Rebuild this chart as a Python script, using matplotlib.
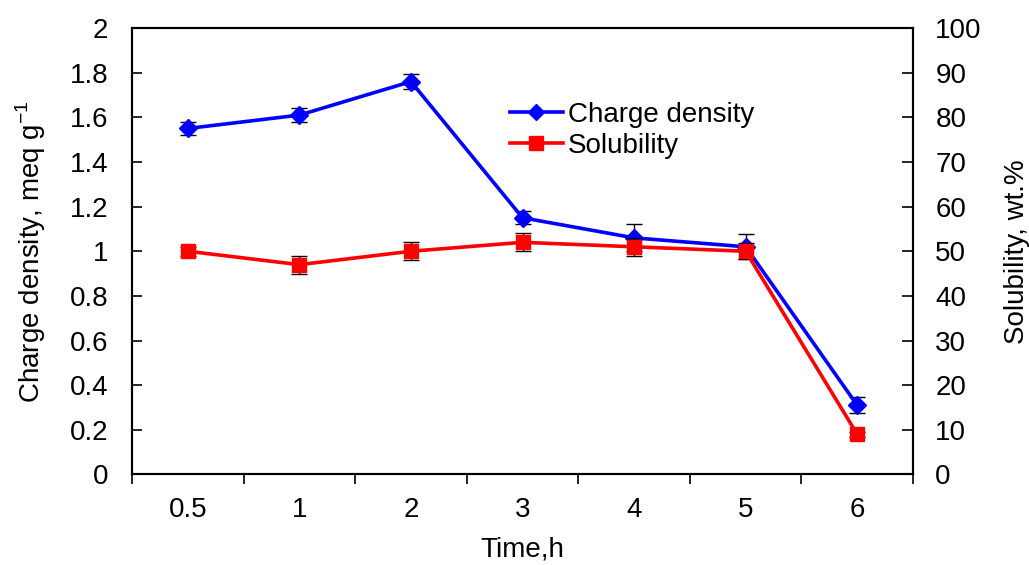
import numpy as np
import matplotlib.pyplot as plt
from matplotlib.lines import Line2D

plt.rcParams['font.family'] = ['Liberation Sans', 'DejaVu Sans']
plt.rcParams['mathtext.fontset'] = 'custom'
plt.rcParams['mathtext.rm'] = 'Liberation Sans'

# Reaction time categories
times = ['0.5', '1', '2', '3', '4', '5', '6']

# Charge density, meq/g, with error
charge = [1.55, 1.61, 1.76, 1.15, 1.06, 1.02, 0.31]
charge_err = [0.027, 0.031, 0.035, 0.03, 0.06, 0.056, 0.035]

# Solubility, wt.%, with error
solub = [50, 47, 50, 52, 51, 50, 9]
solub_err = [1, 2, 2, 2, 2, 1.8, 0.5]

FS = 20
LW = 2.6

fig = plt.figure(figsize=(10.29, 5.65), dpi=100)
ax1 = fig.add_axes([0.1283, 0.1602, 0.7590, 0.7902])
ax2 = ax1.twinx()

x = np.arange(len(times))

# charge density (left axis)
ax1.errorbar(x, charge, yerr=charge_err, fmt='none', ecolor='black',
             elinewidth=1, capsize=6, capthick=1, zorder=2)
ax1.plot(x, charge, color='#0000ff', lw=LW, marker='D', ms=9,
         mfc='#0000ff', mec='#0000ff', zorder=3)

# solubility (right axis)
ax2.errorbar(x, solub, yerr=solub_err, fmt='none', ecolor='black',
             elinewidth=1, capsize=6, capthick=1, zorder=2)
ax2.plot(x, solub, color='#ff0000', lw=LW, marker='s', ms=10,
         mfc='#ff0000', mec='#ff0000', zorder=3)

ax1.set_xlim(-0.5, len(times) - 0.5)
ax1.set_ylim(0, 2)
ax2.set_ylim(0, 100)

ax1.set_yticks(np.arange(0, 2.01, 0.2))
ax1.set_yticklabels(['0', '0.2', '0.4', '0.6', '0.8', '1', '1.2', '1.4', '1.6', '1.8', '2'])
ax2.set_yticks(np.arange(0, 101, 10))

# labels at category centres, tick marks at boundaries
ax1.set_xticks(x)
ax1.set_xticklabels(times)
ax1.set_xticks(np.arange(-0.5, len(times)), minor=True)
ax1.tick_params(axis='x', which='major', length=0, pad=16, labelsize=FS)
ax1.tick_params(axis='x', which='minor', length=7, width=1.2, direction='out')
ax1.tick_params(axis='y', direction='in', length=7, width=1.2, pad=17, labelsize=FS)
ax2.tick_params(axis='y', direction='in', length=8, width=1.2, pad=16, labelsize=FS)

for ax in (ax1, ax2):
    for s in ax.spines.values():
        s.set_linewidth(1.5)

ax1.set_xlabel('Time,h', fontsize=FS, labelpad=10)
ax1.set_ylabel('Charge density, meq g$^{-1}$', fontsize=FS, labelpad=16)
ax2.set_ylabel('Solubility, wt.%', fontsize=FS, labelpad=16)

handles = [
    Line2D([], [], color='#0000ff', lw=LW, marker='D', ms=8),
    Line2D([], [], color='#ff0000', lw=LW, marker='s', ms=10),
]
leg = ax2.legend(handles, ['Charge density', 'Solubility'], loc='upper left',
                 bbox_to_anchor=(496 / 1029, 1 - 88 / 565), bbox_transform=fig.transFigure,
                 frameon=False, fontsize=FS, handlelength=1.9, handletextpad=0.18,
                 labelspacing=0.18, borderpad=0)

fig.savefig('out.png', dpi=100)
